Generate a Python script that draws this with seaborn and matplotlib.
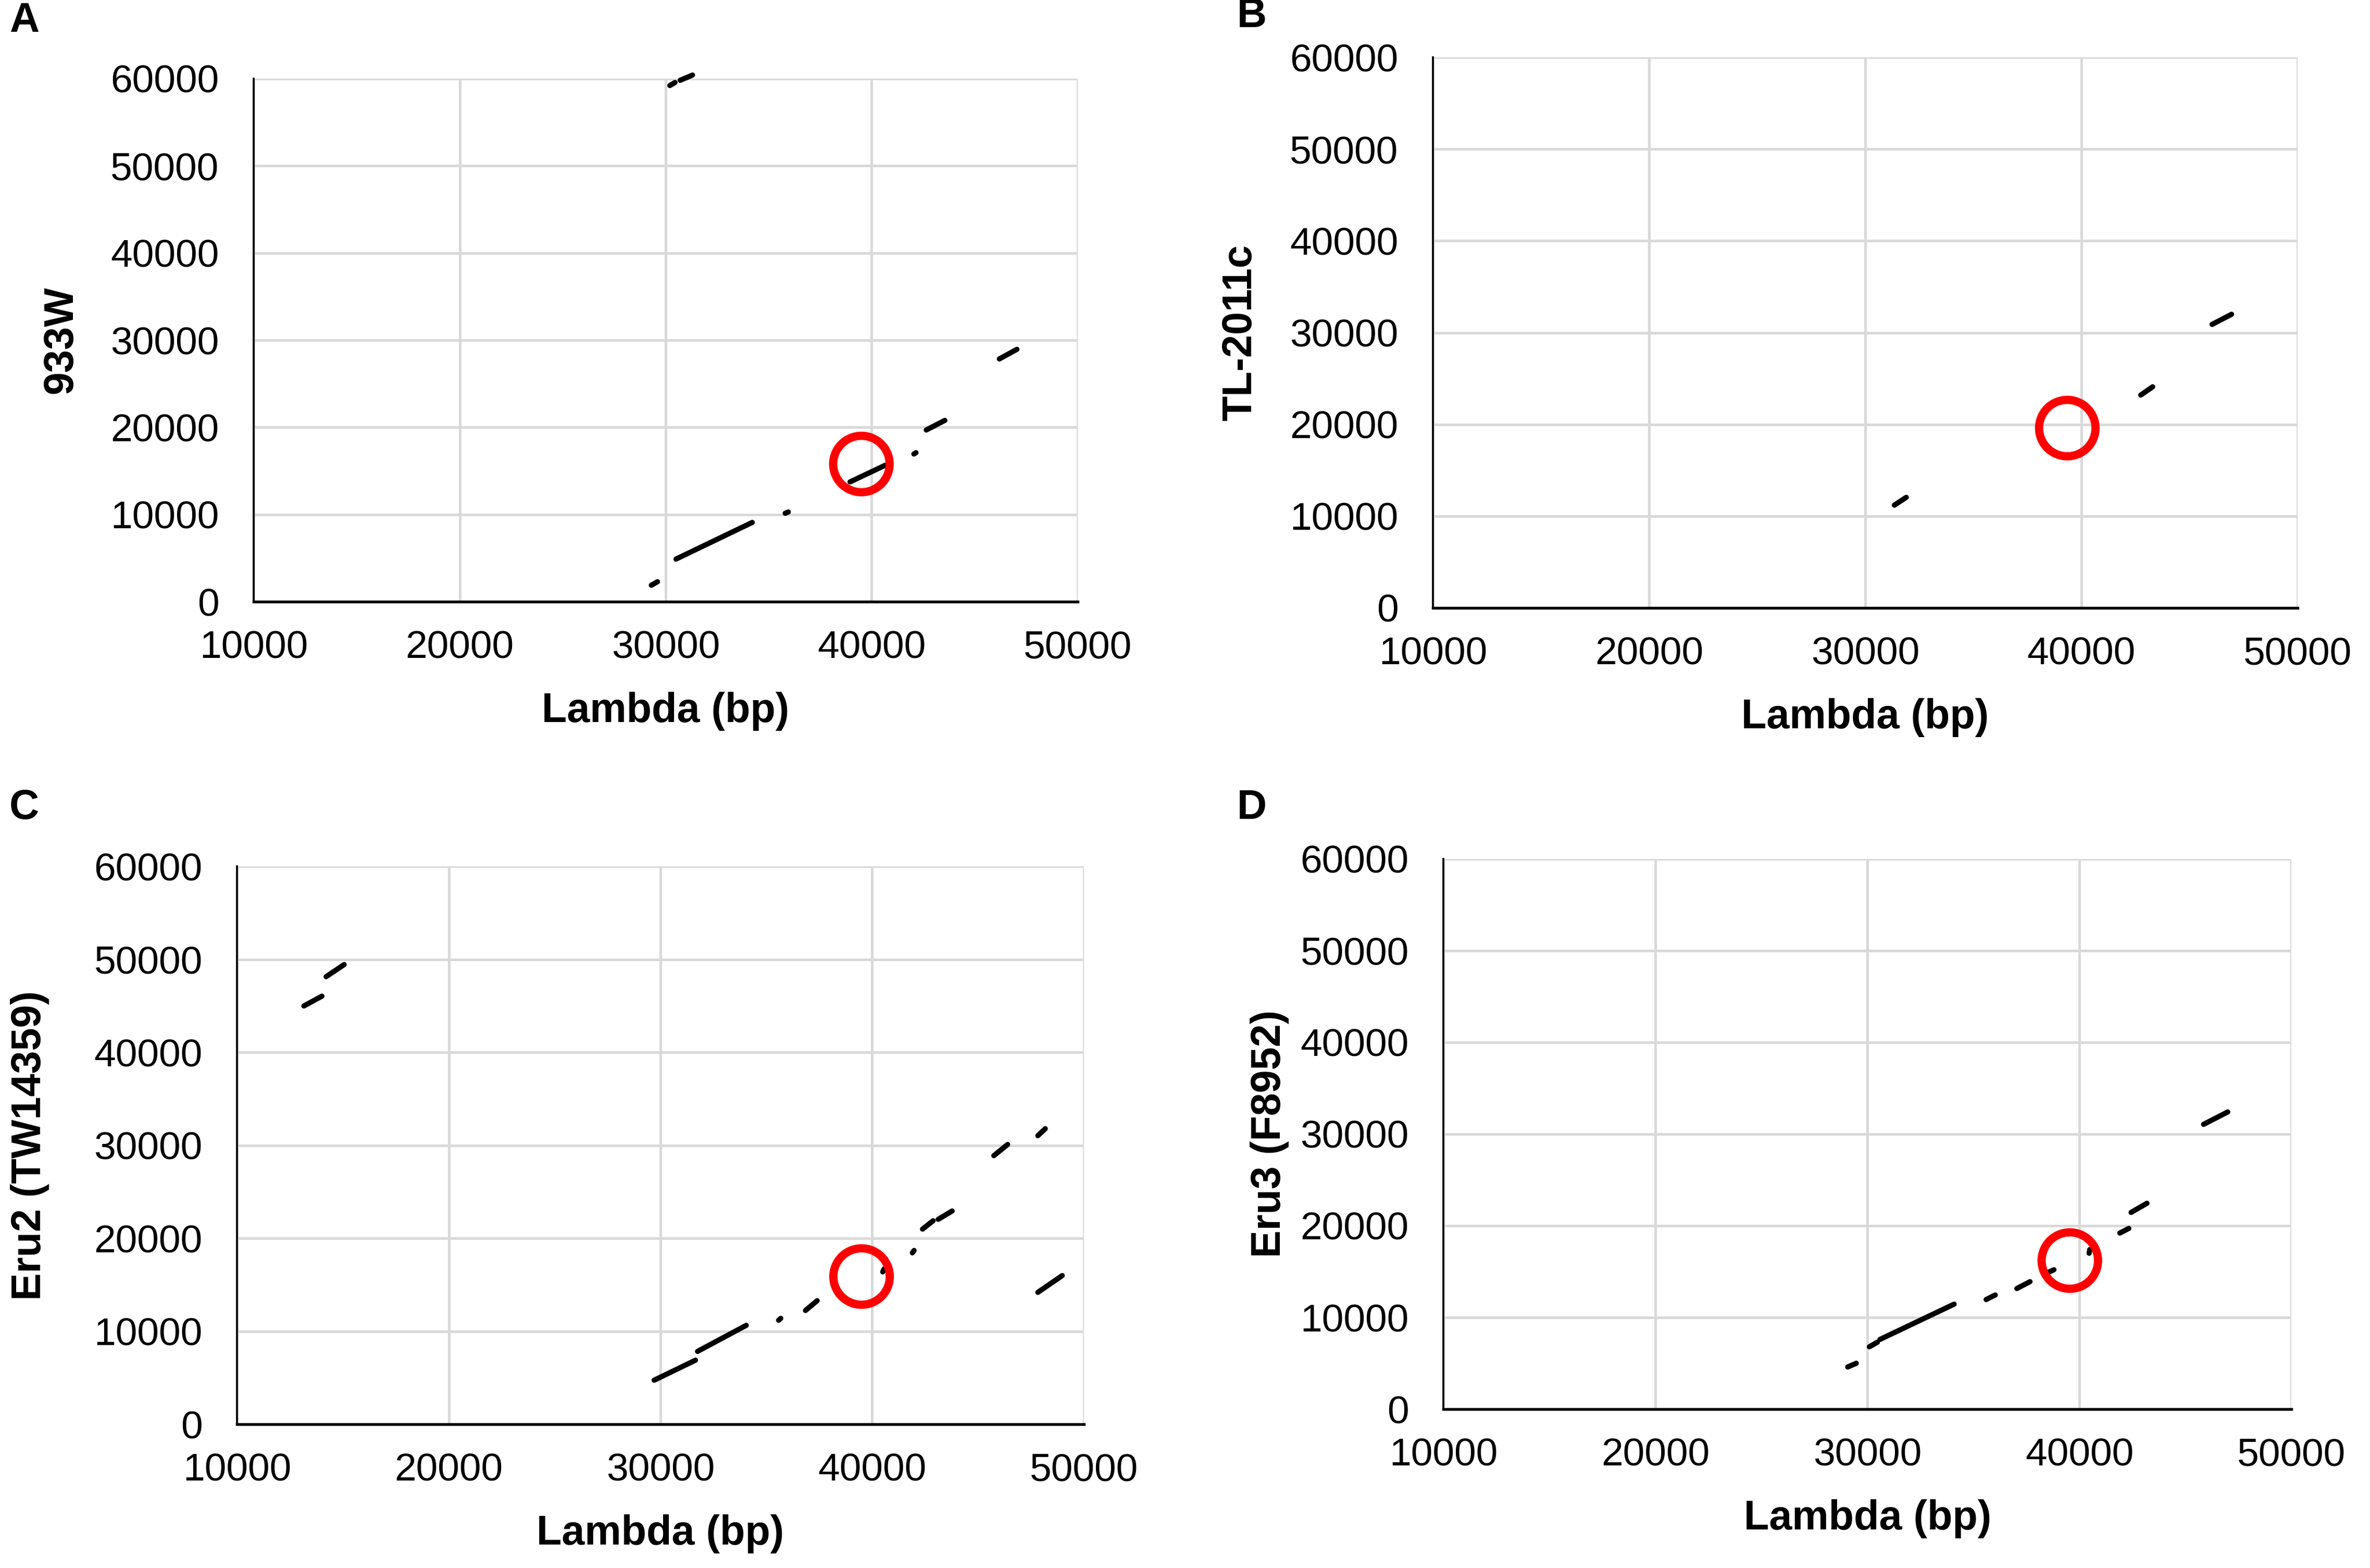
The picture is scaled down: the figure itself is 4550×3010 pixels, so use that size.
import numpy as np
import pandas as pd
import matplotlib
matplotlib.use("Agg")
import matplotlib.pyplot as plt
import seaborn as sns

# dot-plot segments: (start, end) in bp
a_x = [(30200, 30450), (30700, 31300), (29300, 29600), (30500, 34200), (35800, 35950),
       (38950, 40650), (42050, 42150), (42650, 43550), (46200, 47050)]
a_y = [(59200, 59550), (59800, 60400), (1900, 2300), (4900, 9100), (10150, 10300),
       (13750, 15650), (16950, 17100), (19700, 20800), (27850, 28950)]

b_x = [(31350, 31900), (42750, 43300), (46050, 46950)]
b_y = [(11200, 12050), (23200, 24100), (30900, 32000)]

c_x = [(13150, 14000), (14200, 15050), (29700, 31650), (31750, 34050), (35580, 35680),
       (36850, 37400), (40500, 40560), (41900, 41980), (42380, 42880), (43120, 43780),
       (45750, 46400), (47830, 48180), (47830, 48980)]
c_y = [(45000, 46050), (48150, 49450), (4750, 6900), (7850, 10650), (11200, 11400),
       (12250, 13300), (16400, 16700), (18450, 18700), (21000, 21900), (22050, 22950),
       (28900, 30100), (31050, 31800), (14200, 16000)]

d_x = [(29070, 29470), (30090, 30470), (30590, 34090), (35600, 36030), (37050, 37670),
       (38520, 38800), (40460, 40490), (41910, 42330), (42440, 43190), (45860, 47000)]
d_y = [(4600, 5000), (6800, 7300), (7600, 11450), (11950, 12450), (13150, 13900),
       (14900, 15200), (17000, 17400), (19200, 19700), (21450, 22450), (31050, 32400)]

# red circles marking the region of interest
circle_x = [39500, 39350, 39500, 39550]
circle_y = [15800, 19600, 15900, 16200]

panel_letters = ["A", "B", "C", "D"]
y_labels = ["933W", "TL-2011c", "Eru2 (TW14359)", "Eru3 (F8952)"]
x_ticks = [10000, 20000, 30000, 40000, 50000]
y_ticks = [0, 10000, 20000, 30000, 40000, 50000, 60000]

sns.set_style("white")
plt.rcParams["font.family"] = ["Liberation Sans", "DejaVu Sans"]
plt.rcParams["text.color"] = "black"
plt.rcParams["axes.labelcolor"] = "black"

fig = plt.figure(figsize=(4550 / 300, 3010 / 300), dpi=300)

# axes boxes [left, bottom, width, height] in figure fractions
boxes = [
    [0.1071, 0.6162, 0.3476, 0.3337],
    [0.6046, 0.6123, 0.3648, 0.3511],
    [0.1001, 0.0916, 0.3572, 0.3558],
    [0.6091, 0.1013, 0.3577, 0.3510],
]
letter_pos = [(0.004, 0.974), (0.522, 0.977), (0.004, 0.472), (0.522, 0.472)]
ylabel_x = [-0.21, -0.20, -0.222, -0.182]

segs_x = [a_x, b_x, c_x, d_x]
segs_y = [a_y, b_y, c_y, d_y]

for i in range(4):
    ax = fig.add_axes(boxes[i])
    rows = []
    for k, ((x0, x1), (y0, y1)) in enumerate(zip(segs_x[i], segs_y[i])):
        rows.append({"seg": k, "x": x0, "y": y0})
        rows.append({"seg": k, "x": x1, "y": y1})
    df = pd.DataFrame(rows)
    sns.lineplot(data=df, x="x", y="y", units="seg", estimator=None, sort=False,
                 color="black", lw=2.4, ax=ax, legend=False)
    for ln in ax.lines:
        ln.set_solid_capstyle("round")
        ln.set_clip_on(False)

    ax.scatter([circle_x[i]], [circle_y[i]], s=26 ** 2, facecolors="none",
               edgecolors="#ff0000", linewidths=3.8, zorder=5, clip_on=False)

    ax.set_xlim(10000, 50000)
    ax.set_ylim(0, 60000)
    ax.set_xticks(x_ticks)
    ax.set_yticks(y_ticks)
    ax.grid(True, color="#d9d9d9", lw=1.2)
    ax.set_axisbelow(True)
    for side in ["top", "right"]:
        ax.spines[side].set_visible(False)
    ax.spines["left"].set_color("black")
    ax.spines["left"].set_linewidth(0.9)
    ax.spines["bottom"].set_color("black")
    ax.spines["bottom"].set_linewidth(1.3)
    ax.tick_params(axis="both", length=0, labelsize=18, colors="black")
    ax.tick_params(axis="x", pad=13)
    ax.tick_params(axis="y", pad=16)

    ax.set_xlabel("Lambda (bp)", fontsize=19, fontweight="bold", labelpad=12, color="black")
    ax.set_ylabel(y_labels[i], fontsize=19, fontweight="bold", color="black")
    ax.yaxis.set_label_coords(ylabel_x[i], 0.5)

    fig.text(letter_pos[i][0], letter_pos[i][1], panel_letters[i],
             fontsize=19, fontweight="bold", ha="left", va="bottom", color="black")

fig.savefig("out.png", dpi=300, facecolor="white")
